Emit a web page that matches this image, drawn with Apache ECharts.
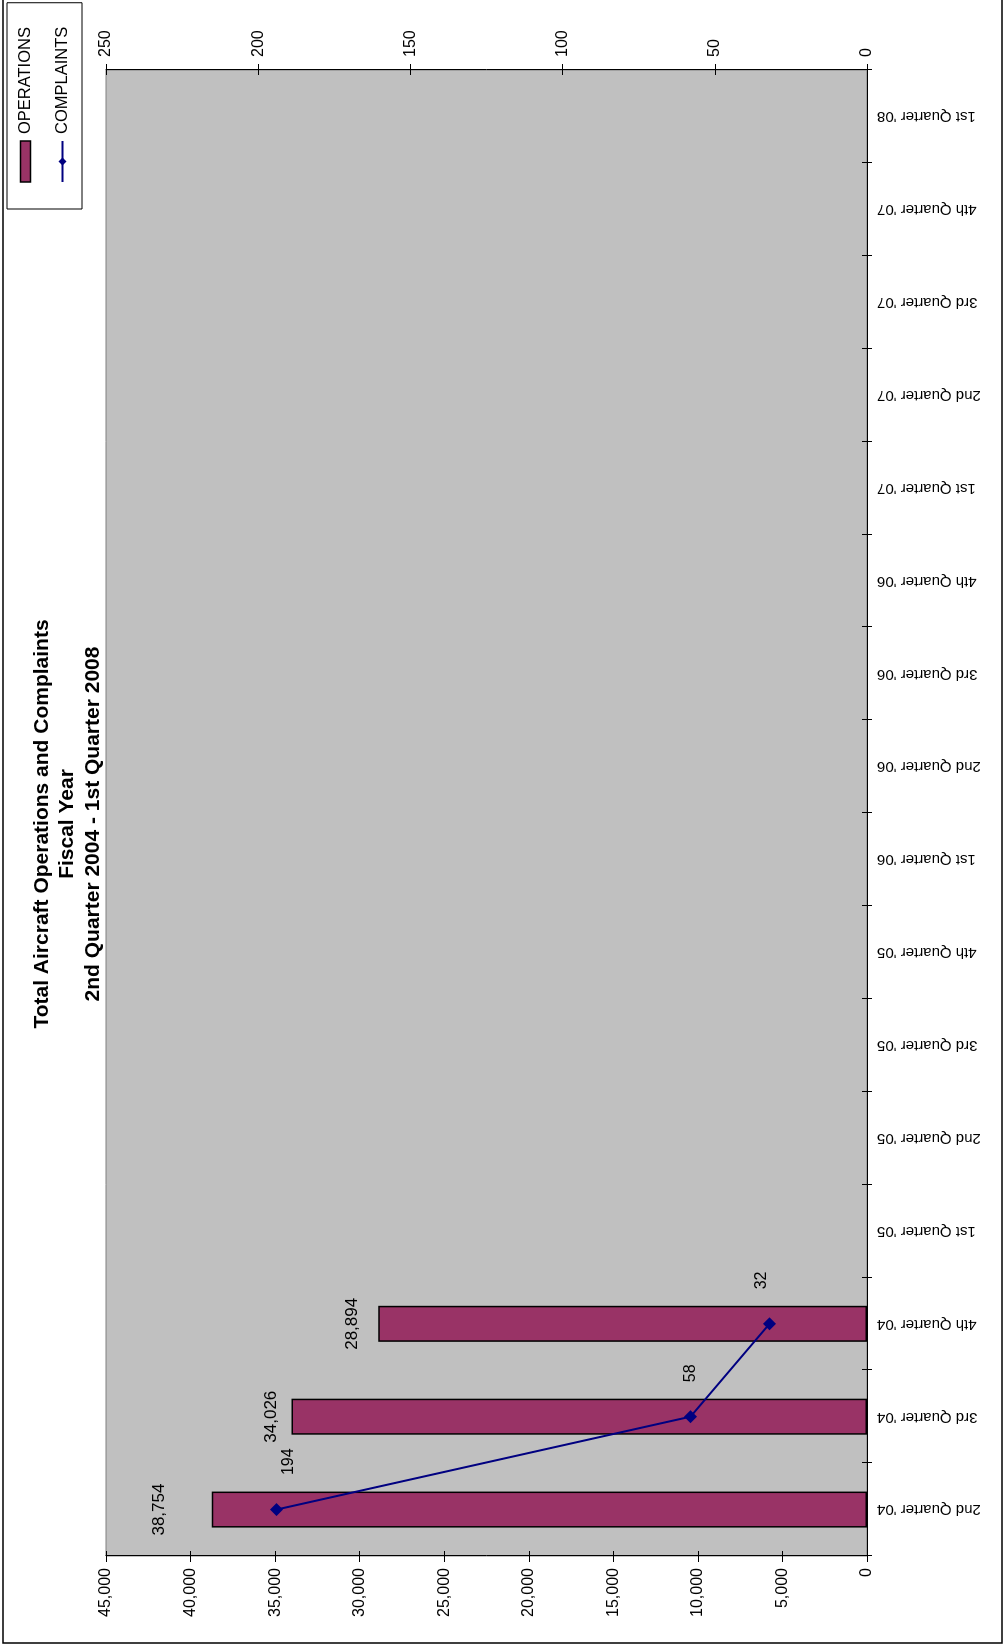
<!DOCTYPE html>
<html>
<head>
<meta charset="utf-8">
<script src="https://cdn.jsdelivr.net/npm/echarts@6/dist/echarts.min.js"></script>
<style>
html,body{margin:0;padding:0;background:#fff;overflow:hidden;width:1005px;height:1648px;}
#wrap{position:absolute;left:0;top:0;width:1648px;height:1005px;transform-origin:0 0;transform:translate(0,1648px) rotate(-90deg);background:#fff;}
</style>
</head>
<body>
<div id="wrap"></div>
<script>
// ---- data ----
var categories = ["2nd Quarter '04","3rd Quarter '04","4th Quarter '04","1st Quarter '05","2nd Quarter '05","3rd Quarter '05","4th Quarter '05","1st Quarter '06","2nd Quarter '06","3rd Quarter '06","4th Quarter '06","1st Quarter '07","2nd Quarter '07","3rd Quarter '07","4th Quarter '07","1st Quarter '08"];
var operations = [38754, 34026, 28894];
var complaints = [194, 58, 32];
var titleLines = ["Total Aircraft Operations and Complaints", "Fiscal Year", "2nd Quarter 2004 - 1st Quarter 2008"];
var seriesNames = ["OPERATIONS", "COMPLAINTS"];

// ---- chart ----
var FONT = "'Liberation Sans', Arial, sans-serif";
var chart = echarts.init(document.getElementById('wrap'), null, {renderer: 'canvas'});
var fmt = function (v) { return Number(v).toLocaleString('en-US'); };
// label placement styling (not data)
var barLabelGap = [44, 12, 18];
var lineLabelShift = [[0, 12], [0, 0], [0, -8]];

var grid = {left: 92, right: 70, top: 106, bottom: 138, show: true, backgroundColor: '#C0C0C0', borderColor: '#808080', borderWidth: 1};

var opsAxis = {min: 0, max: 45000, interval: 5000};
var cmpAxis = {min: 0, max: 250, interval: 50};

var option = {
  animation: false,
  textStyle: {fontFamily: FONT},
  title: {
    text: titleLines.join('\n'),
    left: 'center',
    top: 24,
    textStyle: {fontFamily: FONT, fontSize: 21, fontWeight: 'bold', color: '#000', lineHeight: 25.5}
  },
  legend: {
    orient: 'vertical',
    left: 1439,
    top: 7,
    padding: [10, 24, 11, 26],
    itemGap: 20,
    itemWidth: 41,
    itemHeight: 10,
    borderColor: '#000',
    borderWidth: 1,
    backgroundColor: '#fff',
    textStyle: {fontFamily: FONT, fontSize: 16.5, color: '#000', padding: [0, 0, 0, 2]},
    data: [
      {name: seriesNames[0], icon: 'rect', itemStyle: {color: '#993366', borderColor: '#000', borderWidth: 1.5}},
      {name: seriesNames[1]}
    ]
  },
  grid: grid,
  xAxis: [
    {
      type: 'category', data: categories, position: 'bottom',
      axisLine: {lineStyle: {color: '#000', width: 1}},
      axisTick: {show: true, length: 5, interval: 0, lineStyle: {color: '#000'}},
      axisLabel: {rotate: 90, interval: 0, fontSize: 15, color: '#000', margin: 10, fontFamily: FONT},
      splitLine: {show: false}
    },
    {
      type: 'category', data: categories, position: 'bottom',
      axisLine: {show: false},
      axisTick: {show: true, inside: true, length: 5, interval: 0, lineStyle: {color: '#000'}},
      axisLabel: {show: false},
      splitLine: {show: false}
    }
  ],
  yAxis: [
    Object.assign({
      type: 'value', position: 'left',
      axisLine: {show: true, lineStyle: {color: '#000'}},
      axisTick: {show: true, length: 6, lineStyle: {color: '#000'}},
      axisLabel: {fontSize: 16, color: '#000', margin: 12, formatter: fmt, fontFamily: FONT},
      splitLine: {show: false}
    }, opsAxis),
    Object.assign({
      type: 'value', position: 'right',
      axisLine: {show: true, lineStyle: {color: '#000'}},
      axisTick: {show: true, length: 6, lineStyle: {color: '#000'}},
      axisLabel: {fontSize: 16, color: '#000', margin: 13, fontFamily: FONT},
      splitLine: {show: false}
    }, cmpAxis),
    Object.assign({
      type: 'value', position: 'left',
      axisLine: {show: false},
      axisTick: {show: true, inside: true, length: 5, lineStyle: {color: '#000'}},
      axisLabel: {show: false},
      splitLine: {show: false}
    }, opsAxis),
    Object.assign({
      type: 'value', position: 'right',
      axisLine: {show: false},
      axisTick: {show: true, inside: true, length: 5, lineStyle: {color: '#000'}},
      axisLabel: {show: false},
      splitLine: {show: false}
    }, cmpAxis)
  ],
  series: [
    {
      name: seriesNames[0], type: 'bar', xAxisIndex: 0, yAxisIndex: 0,
      barWidth: 36,
      itemStyle: {color: '#993366', borderColor: '#000', borderWidth: 1.5},
      data: operations.map(function (v, i) {
        return {value: v, label: {distance: barLabelGap[i]}};
      }),
      label: {show: true, position: 'top', fontSize: 17, color: '#000', fontFamily: FONT, formatter: function (p) { return fmt(p.value); }}
    },
    {
      name: seriesNames[1], type: 'line', xAxisIndex: 0, yAxisIndex: 1,
      data: complaints.map(function (v, i) {
        return {value: v, label: {offset: lineLabelShift[i]}};
      }),
      symbol: 'diamond', symbolSize: 13,
      lineStyle: {color: '#000080', width: 2},
      itemStyle: {color: '#000080'},
      label: {show: true, position: 'right', distance: 28, fontSize: 16, color: '#000', fontFamily: FONT}
    }
  ],
  graphic: [
    {type: 'rect', z: -10, silent: true, shape: {x: 5, y: 3, width: 1700, height: 999}, style: {fill: 'none', stroke: '#000', lineWidth: 1.5}}
  ]
};
chart.setOption(option);
</script>
</body>
</html>
